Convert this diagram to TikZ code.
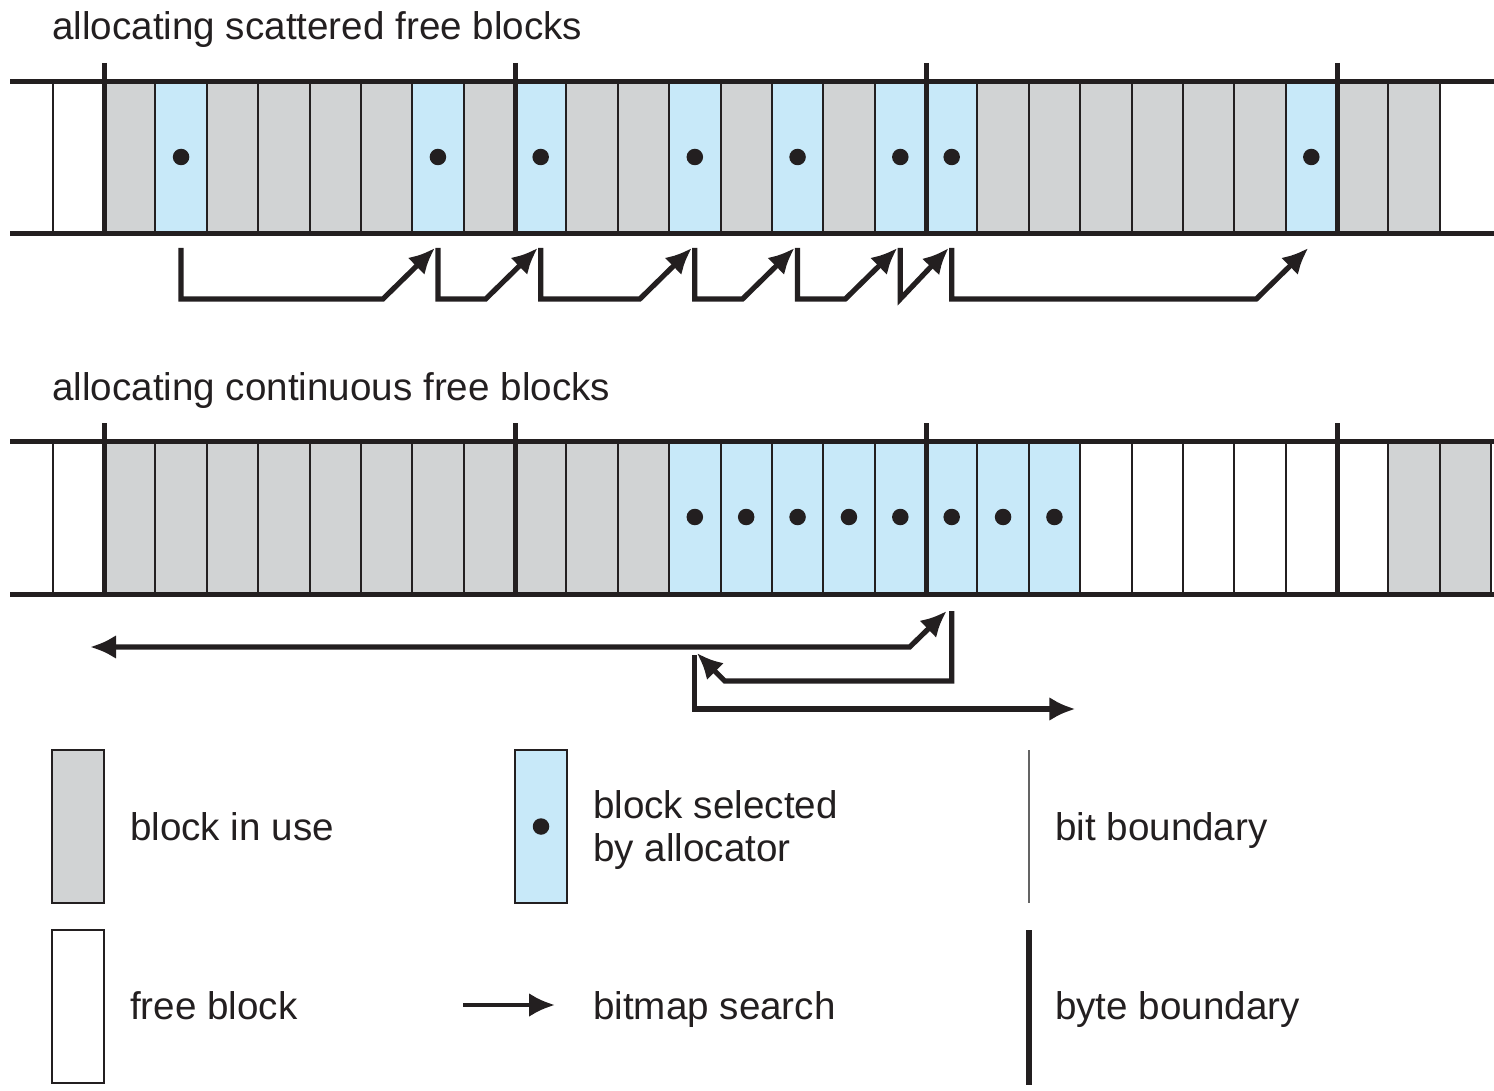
\documentclass[tikz,border=0pt]{standalone}
\usepackage{fontspec}
\setmainfont{Liberation Sans}
\usetikzlibrary{arrows.meta,calc}
\definecolor{usegray}{RGB}{209,211,212}
\definecolor{selblue}{RGB}{200,233,249}
\definecolor{ink}{RGB}{35,31,32}
\definecolor{thingray}{RGB}{100,100,100}
\begin{document}
\begin{tikzpicture}[x=1pt,y=-1pt,
  bitline/.style={line width=2pt, draw=ink},
  byteline/.style={line width=5pt, draw=ink},
  rail/.style={line width=5pt, draw=ink},
  search/.style={line width=5.2pt, draw=ink, line join=miter, -{Latex[length=26pt,width=24pt]}},
  twoway/.style={line width=5.2pt, draw=ink, line join=miter, {Latex[length=26pt,width=24pt]}-{Latex[length=26pt,width=24pt]}},
  seldot/.style={circle, fill=ink, inner sep=0pt, minimum size=16.5pt},
  lbl/.style={font=\fontsize{38.6}{46}\selectfont, anchor=base west, inner sep=0pt, text=ink},
  keybox/.style={draw=ink, line width=2pt},
]
\useasboundingbox (0,0) rectangle (1494,1091);
\def\w{51.375}
% ---------------- top strip: scattered ----------------
\node[lbl] (title1) at (52,40) {allocating scattered free blocks};
\foreach \i in {0,2,3,4,5,7,9,10,12,14,17,18,19,20,21,22,24,25}
  \fill[usegray] ({104+\i*\w},82) rectangle +(\w,152);
\foreach \i in {1,6,8,11,13,15,16,23}
  \fill[selblue] ({104+\i*\w},82) rectangle +(\w,152);
\foreach \i in {-1,...,26}
  \draw[bitline] ({104+\i*\w},82) -- +(0,152);
\foreach \i in {0,8,16,24}
  \draw[byteline] ({104+\i*\w},63) -- +(0,173);
\draw[rail] (10,82) -- (1494,82);
\draw[rail] (10,234) -- (1494,234);
\foreach \i in {1,6,8,11,13,15,16,23}
  \node[seldot] (t\i) at ({104+(\i+0.5)*\w},157) {};
\foreach \a/\b in {1/6,6/8,8/11,11/13,13/15,16/23}
  \draw[search] ($(t\a)+(0,91)$) |- ($(t\b)+(-55,142)$) -- ($(t\b)+(-3,91)$);
\draw[search] ($(t15)+(0,91)$) -- ($(t15)+(0,142)$) -- ($(t16)+(-3,91)$);
% ---------------- bottom strip: continuous ----------------
\node[lbl] (title2) at (52,400) {allocating continuous free blocks};
\foreach \i in {0,...,10,25,26}
  \fill[usegray] ({104+\i*\w},441) rectangle +(\w,153);
\foreach \i in {11,...,18}
  \fill[selblue] ({104+\i*\w},441) rectangle +(\w,153);
\foreach \i in {-1,...,27}
  \draw[bitline] ({104+\i*\w},441) -- +(0,153);
\foreach \i in {0,8,16,24}
  \draw[byteline] ({104+\i*\w},423) -- +(0,173);
\draw[rail] (10,441) -- (1494,441);
\draw[rail] (10,594) -- (1494,594);
\foreach \i in {11,...,18}
  \node[seldot] (b\i) at ({104+(\i+0.5)*\w},517) {};
\coordinate (leftend) at (90,647);
\draw[twoway] (leftend) -- ($(b16)+(-42,130)$) -- ($(b16)+(-5,94)$);
\draw[search] ($(b16)+(0,94)$) |- ($(b11)+(30,164)$) -- ($(b11)+(2,136)$);
\draw[search] ($(b11)+(0,138)$) |- ($(b18)+(21,192)$);
% ---------------- legend ----------------
\node[keybox, fill=usegray, minimum width=52pt, minimum height=153pt, inner sep=0pt] (kuse) at (78,826.5) {};
\node[lbl] (tuse) at (130,840) {block in use};
\node[keybox, fill=selblue, minimum width=52pt, minimum height=153pt, inner sep=0pt] (ksel) at (541,826.5) {};
\node[seldot] (kseldot) at (ksel.center) {};
\node[lbl] (tsel1) at (593,818) {block selected};
\node[lbl] (tsel2) at (593,861) {by allocator};
\coordinate (kbit1) at (1029,750);
\coordinate (kbit2) at (1029,903);
\draw[line width=2.2pt, draw=thingray] (kbit1) -- (kbit2);
\node[lbl] (tbit) at (1055,840) {bit boundary};
\node[keybox, fill=white, minimum width=52pt, minimum height=153pt, inner sep=0pt] (kfree) at (78,1006.5) {};
\node[lbl] (tfree) at (130,1019) {free block};
\coordinate (ksearch1) at (463,1005);
\coordinate (ksearch2) at (555,1005);
\draw[search, line width=4.5pt] (ksearch1) -- (ksearch2);
\node[lbl] (tsearch) at (593,1019) {bitmap search};
\coordinate (kbyte1) at (1029,930);
\coordinate (kbyte2) at (1029,1085);
\draw[line width=5.5pt, draw=ink] (kbyte1) -- (kbyte2);
\node[lbl] (tbyte) at (1055,1019) {byte boundary};
\end{tikzpicture}
\end{document}
